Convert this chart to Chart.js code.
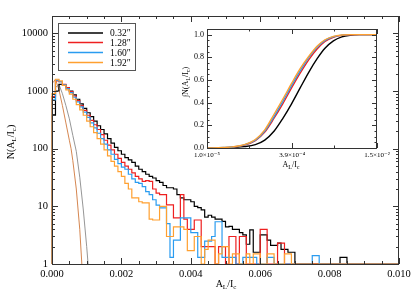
<!DOCTYPE html>
<html>
<head>
<meta charset="utf-8">
<script src="https://cdn.jsdelivr.net/npm/chart.js@4.4.0/dist/chart.umd.min.js"></script>
<style>
  html, body { margin: 0; padding: 0; background: #fff; }
  #wrap { position: relative; width: 415px; height: 297px; }
  #wrap canvas { position: absolute; left: 0; top: 0; }
</style>
</head>
<body>
<div id="wrap">
  <canvas id="mainCanvas" width="415" height="297"></canvas>
  <canvas id="insetCanvas" width="415" height="297"></canvas>
</div>
<script>
// == Data ==
const seriesLabels = ["0.32\u2033", "1.28\u2033", "1.60\u2033", "1.92\u2033"];
const seriesColors = ["#000000", "#ee2020", "#2a9cf0", "#ffa030"];

const binWidth = 0.0001;   // histogram bins of A_L/I_c
const histBlack = [
  380, 1000, 1300, 1280, 1150, 1000, 860, 720, 600, 500,
  420, 360, 300, 250, 215, 180, 150, 125, 105, 92,
  80, 70, 64, 58, 50, 44, 40, 36, 33, 31,
  28, 26, 23, 21, 21, 20, 16, 14, 13, 13,
  12, 10, 9.5, 8.7, 6.5, 7, 6.5, 6, 6, 5.5,
  4.4, 4.5, 4, 4, 3.5, 3.2, 2.2, 3.9, 1.6, 1.6,
  3.2, 3.2, 2.6, 2.1, 2.1, 2.3, 1.8, 1.8, 1.6, 1.6,
  1, 1, 1, 1, 1, 1, 1, 1, 1, 1,
  1, 1, 1, 1.3, 1.3, 1, 1, 1, 1, 1,
  1, 1, 1, 1, 1, 1, 1, 1, 1, 1
];
const histRed = [
  800, 1500, 1450, 1300, 1150, 980, 820, 680, 560, 460,
  380, 310, 260, 215, 175, 140, 115, 95, 80, 68,
  58, 50, 44, 38, 33, 30, 27, 28, 27, 20,
  17, 16, 16, 10.6, 10.6, 6.3, 6.3, 16, 6, 4,
  4, 5.8, 5.8, 2, 2, 2, 2, 1, 2, 2,
  1, 3, 3, 1, 3, 3, 1, 1, 1, 1,
  4, 4, 1, 1, 1, 2.3, 2.3, 1, 1, 1,
  1, 1, 1, 1, 1, 1, 1, 1, 1, 1,
  1, 1, 1, 1, 1, 1, 1, 1, 1, 1,
  1, 1, 1, 1, 1, 1, 1, 1, 1, 1
];
const histBlue = [
  700, 1550, 1450, 1280, 1100, 940, 780, 650, 530, 430,
  350, 280, 230, 185, 150, 120, 95, 80, 65, 55,
  48, 44, 36, 30, 26, 25, 22, 18, 16, 13,
  10.5, 9.4, 9.4, 5, 1.3, 2.6, 2.6, 6.3, 6.3, 6.3,
  3.5, 3.5, 1.3, 1.3, 2.5, 2.5, 3, 5.4, 5.4, 1.3,
  1.3, 1.3, 1.3, 1, 1, 1.3, 1.3, 1.3, 1.3, 1,
  1, 1, 1.3, 1.3, 1, 1, 1, 1, 1, 1,
  1, 1, 1, 1, 1, 1.4, 1.4, 1, 1, 1,
  1, 1, 1, 1, 1, 1, 1, 1, 1, 1,
  1, 1, 1, 1, 1, 1, 1, 1, 1, 1
];
const histOrange = [
  900, 1600, 1500, 1250, 1050, 880, 720, 580, 470, 380,
  300, 240, 190, 150, 120, 95, 75, 60, 50, 40,
  33, 25, 20, 14, 14, 12, 11.5, 11.5, 6, 5.8,
  5.8, 10, 10, 3, 3, 4.4, 4.4, 4.4, 4, 1.7,
  1.7, 3, 3, 1, 1.8, 2.6, 2.6, 1, 1.5, 2,
  2, 1, 1.5, 1.5, 1, 1, 1.5, 1, 1.5, 1.5,
  1, 1, 1.5, 1.5, 1, 1, 1, 1.5, 1.5, 1,
  1, 1, 1, 1, 1, 1, 1, 1, 1, 1,
  1, 1, 1, 1, 1, 1, 1, 1, 1, 1,
  1, 1, 1, 1, 1, 1, 1, 1, 1, 1
];

// thin model curves near the origin
const fitGreyX = [0.0001, 0.0002, 0.0003, 0.0004, 0.0005, 0.0006, 0.0007, 0.0008, 0.0009, 0.001, 0.00104];
const fitGreyY = [1150, 1300, 900, 560, 330, 170, 90, 32, 9, 2, 1];
const fitOrangeX = [0.00003, 0.0001, 0.0002, 0.0003, 0.0004, 0.0005, 0.00055, 0.0006, 0.0007, 0.0008, 0.00086];
const fitOrangeY = [1400, 1600, 1050, 560, 280, 140, 100, 62, 20, 4, 1];

const xTickValues = [0, 0.002, 0.004, 0.006, 0.008, 0.010];
const xTickLabels = ["0.000", "0.002", "0.004", "0.006", "0.008", "0.010"];
const xMinorTicks = [0.0005, 0.001, 0.0015, 0.0025, 0.003, 0.0035, 0.0045, 0.005, 0.0055,
                     0.0065, 0.007, 0.0075, 0.0085, 0.009, 0.0095];
const yTickValues = [1, 10, 100, 1000, 10000];
const yTickLabels = ["1", "10", "100", "1000", "10000"];

// inset: cumulative distribution
const cdfX = [1e-5, 2e-5, 3e-5, 5e-5, 8e-5, 1.2e-4, 1.8e-4, 2.6e-4, 3.8e-4, 5.5e-4,
              8e-4, 1.15e-3, 1.6e-3, 2.3e-3, 3.3e-3, 4.7e-3, 7e-3, 1e-2, 1.5e-2];
const cdfBlack = [0, 0.002, 0.005, 0.012, 0.03, 0.07, 0.15, 0.26, 0.39, 0.53,
                  0.67, 0.79, 0.88, 0.945, 0.98, 0.995, 1, 1, 1];
const cdfRed = [0, 0.003, 0.008, 0.025, 0.065, 0.14, 0.265, 0.39, 0.53, 0.66,
                0.78, 0.875, 0.94, 0.977, 0.994, 0.999, 1, 1, 1];
const cdfBlue = [0, 0.004, 0.009, 0.028, 0.07, 0.15, 0.28, 0.41, 0.55, 0.68,
                 0.8, 0.89, 0.95, 0.982, 0.996, 1, 1, 1, 1];
const cdfOrange = [0, 0.004, 0.01, 0.03, 0.075, 0.16, 0.3, 0.43, 0.57, 0.7,
                   0.81, 0.9, 0.955, 0.985, 0.997, 1, 1, 1, 1];
const insetXTicks = [1e-5, 3.9e-4, 1.5e-2];
const insetXLabels = ["1.0\u00d710\u207b\u2075", "3.9\u00d710\u207b\u2074", "1.5\u00d710\u207b\u00b2"];
const insetXMinor = [6.2e-5, 2.4e-3];
const insetYTicks = [0, 0.2, 0.4, 0.6, 0.8, 1.0];

// == Utils ==
const SERIF = '"Liberation Serif", "DejaVu Serif", serif';

function histPoints(values) {
  const pts = [{ x: 0, y: 1 }];
  values.forEach((v, i) => pts.push({ x: i * binWidth, y: v }));
  pts.push({ x: values.length * binWidth, y: values[values.length - 1] });
  return pts;
}

function zipPoints(xs, ys) {
  return xs.map((x, i) => ({ x, y: ys[i] }));
}

function drawSubText(ctx, parts, x, y, size, angle) {
  const big = `${size}px ${SERIF}`;
  const small = `${Math.round(size * 0.7)}px ${SERIF}`;
  ctx.save();
  ctx.translate(x, y);
  ctx.rotate(angle);
  let w = 0;
  parts.forEach(([t, sub]) => { ctx.font = sub ? small : big; w += ctx.measureText(t).width; });
  let cx = -w / 2;
  ctx.textAlign = 'left';
  ctx.textBaseline = 'middle';
  ctx.fillStyle = '#000';
  parts.forEach(([t, sub]) => {
    ctx.font = sub ? small : big;
    ctx.fillText(t, cx, sub ? size * 0.3 : 0);
    cx += ctx.measureText(t).width;
  });
  ctx.restore();
}

function drawFrameTicks(chart, xMajor, xMinor, yMajor, yMinor, majorLen, minorLen) {
  const { ctx, chartArea: a, scales } = chart;
  ctx.save();
  ctx.strokeStyle = '#333';
  ctx.lineWidth = 1;
  ctx.strokeRect(Math.round(a.left) + 0.5, Math.round(a.top) + 0.5,
                 Math.round(a.right - a.left) - 1, Math.round(a.bottom - a.top));
  ctx.beginPath();
  const xt = (v, len) => {
    const p = Math.round(scales.x.getPixelForValue(v)) + 0.5;
    ctx.moveTo(p, a.bottom); ctx.lineTo(p, a.bottom - len);
    ctx.moveTo(p, a.top); ctx.lineTo(p, a.top + len);
  };
  const yt = (v, len) => {
    const p = Math.round(scales.y.getPixelForValue(v)) + 0.5;
    ctx.moveTo(a.left, p); ctx.lineTo(a.left + len, p);
    ctx.moveTo(a.right, p); ctx.lineTo(a.right - len, p);
  };
  xMajor.forEach(v => xt(v, majorLen));
  xMinor.forEach(v => xt(v, minorLen));
  yMajor.forEach(v => yt(v, majorLen));
  yMinor.forEach(v => yt(v, minorLen));
  ctx.stroke();
  ctx.restore();
}

// == Main chart ==
const yMinorTicks = [];
yTickValues.slice(0, -1).forEach(d => { for (let k = 2; k <= 9; k++) yMinorTicks.push(d * k); });

const mainDecor = {
  id: 'mainDecor',
  afterDraw(chart) {
    const ctx = chart.ctx;
    drawFrameTicks(chart, xTickValues, xMinorTicks, yTickValues, yMinorTicks, 6, 3);
    // legend
    ctx.save();
    ctx.fillStyle = '#fff';
    ctx.fillRect(58.5, 23.5, 77, 47);
    ctx.strokeStyle = '#555';
    ctx.lineWidth = 1;
    ctx.strokeRect(58.5, 23.5, 77, 47);
    const rows = [33, 42.5, 52.5, 62.5];
    seriesLabels.forEach((lab, i) => {
      ctx.strokeStyle = seriesColors[i];
      ctx.lineWidth = 1.3;
      ctx.beginPath();
      ctx.moveTo(68, rows[i]); ctx.lineTo(103, rows[i]);
      ctx.stroke();
      ctx.fillStyle = '#000';
      ctx.font = `9.5px ${SERIF}`;
      ctx.textBaseline = 'middle';
      ctx.textAlign = 'left';
      ctx.fillText(lab, 110, rows[i] + 0.5);
    });
    ctx.restore();
    drawSubText(ctx, [['N(A', 0], ['L', 1], ['/I', 0], ['c', 1], [')', 0]], 11, 142, 10, -Math.PI / 2);
    drawSubText(ctx, [['A', 0], ['L', 1], ['/I', 0], ['c', 1]], 226, 284, 10, 0);
  }
};

function histDataset(values, color, order) {
  return {
    data: histPoints(values), borderColor: color, borderWidth: 1.2,
    stepped: true, pointRadius: 0, fill: false, order, clip: 2
  };
}

new Chart(document.getElementById('mainCanvas'), {
  type: 'line',
  data: {
    datasets: [
      { data: zipPoints(fitGreyX, fitGreyY), borderColor: '#8a8a8a', borderWidth: 0.9, pointRadius: 0, order: 5 },
      { data: zipPoints(fitOrangeX, fitOrangeY), borderColor: '#d0783c', borderWidth: 0.9, pointRadius: 0, order: 5 },
      histDataset(histBlack, seriesColors[0], 4),
      histDataset(histRed, seriesColors[1], 3),
      histDataset(histBlue, seriesColors[2], 2),
      histDataset(histOrange, seriesColors[3], 1)
    ]
  },
  options: {
    responsive: false,
    animation: false,
    events: [],
    layout: { padding: { left: 0, right: 16, top: 16, bottom: 0 } },
    plugins: { legend: { display: false }, tooltip: { enabled: false } },
    scales: {
      x: {
        type: 'linear', min: 0, max: 0.01,
        grid: { display: false, drawTicks: false }, border: { display: false },
        afterBuildTicks: s => { s.ticks = xTickValues.map(v => ({ value: v })); },
        afterFit: s => { s.height = 33; },
        ticks: {
          autoSkip: false, maxRotation: 0, padding: 4, color: '#000',
          font: { family: SERIF, size: 10.5 },
          callback: (v, i) => xTickLabels[i]
        }
      },
      y: {
        type: 'logarithmic', min: 1, max: 20000,
        grid: { display: false, drawTicks: false }, border: { display: false },
        afterBuildTicks: s => { s.ticks = yTickValues.map(v => ({ value: v })); },
        afterFit: s => { s.width = 52; },
        ticks: {
          autoSkip: false, padding: 4, color: '#000',
          font: { family: SERIF, size: 10.5 },
          callback: (v, i) => yTickLabels[i]
        }
      }
    }
  },
  plugins: [mainDecor]
});

// == Inset chart ==
const insetYMinor = [];
for (let k = 1; k <= 20; k++) if (k % 4 !== 0) insetYMinor.push(k * 0.05);

const insetDecor = {
  id: 'insetDecor',
  afterDraw(chart) {
    drawFrameTicks(chart, insetXTicks, insetXMinor, insetYTicks, insetYMinor, 5, 2.5);
    drawSubText(chart.ctx, [['\u222bN(A', 0], ['L', 1], ['/I', 0], ['c', 1], [')', 0]], 186, 82, 8, -Math.PI / 2);
    drawSubText(chart.ctx, [['A', 0], ['L', 1], ['/I', 0], ['c', 1]], 291, 165, 8, 0);
  }
};

function cdfDataset(values, color, order) {
  return {
    data: zipPoints(cdfX, values), borderColor: color, borderWidth: 1.4,
    pointRadius: 0, cubicInterpolationMode: 'monotone', order
  };
}

new Chart(document.getElementById('insetCanvas'), {
  type: 'line',
  data: {
    datasets: [
      cdfDataset(cdfBlack, seriesColors[0], 4),
      cdfDataset(cdfRed, seriesColors[1], 3),
      cdfDataset(cdfBlue, seriesColors[2], 2),
      cdfDataset(cdfOrange, seriesColors[3], 1)
    ]
  },
  options: {
    responsive: false,
    animation: false,
    events: [],
    layout: { padding: { left: 0, right: 38, top: 29, bottom: 0 } },
    plugins: { legend: { display: false }, tooltip: { enabled: false } },
    scales: {
      x: {
        type: 'logarithmic', min: 1e-5, max: 1.5e-2,
        grid: { display: false, drawTicks: false }, border: { display: false },
        afterBuildTicks: s => { s.ticks = insetXTicks.map(v => ({ value: v })); },
        afterFit: s => { s.height = 149; },
        ticks: {
          autoSkip: false, maxRotation: 0, padding: 3, color: '#000',
          font: { family: SERIF, size: 7 },
          callback: (v, i) => insetXLabels[i]
        }
      },
      y: {
        type: 'linear', min: 0, max: 1.05,
        grid: { display: false, drawTicks: false }, border: { display: false },
        afterBuildTicks: s => { s.ticks = insetYTicks.map(v => ({ value: v })); },
        afterFit: s => { s.width = 207; },
        ticks: {
          autoSkip: false, padding: 3, color: '#000',
          font: { family: SERIF, size: 8 },
          callback: v => v.toFixed(1)
        }
      }
    }
  },
  plugins: [insetDecor]
});
</script>
</body>
</html>
